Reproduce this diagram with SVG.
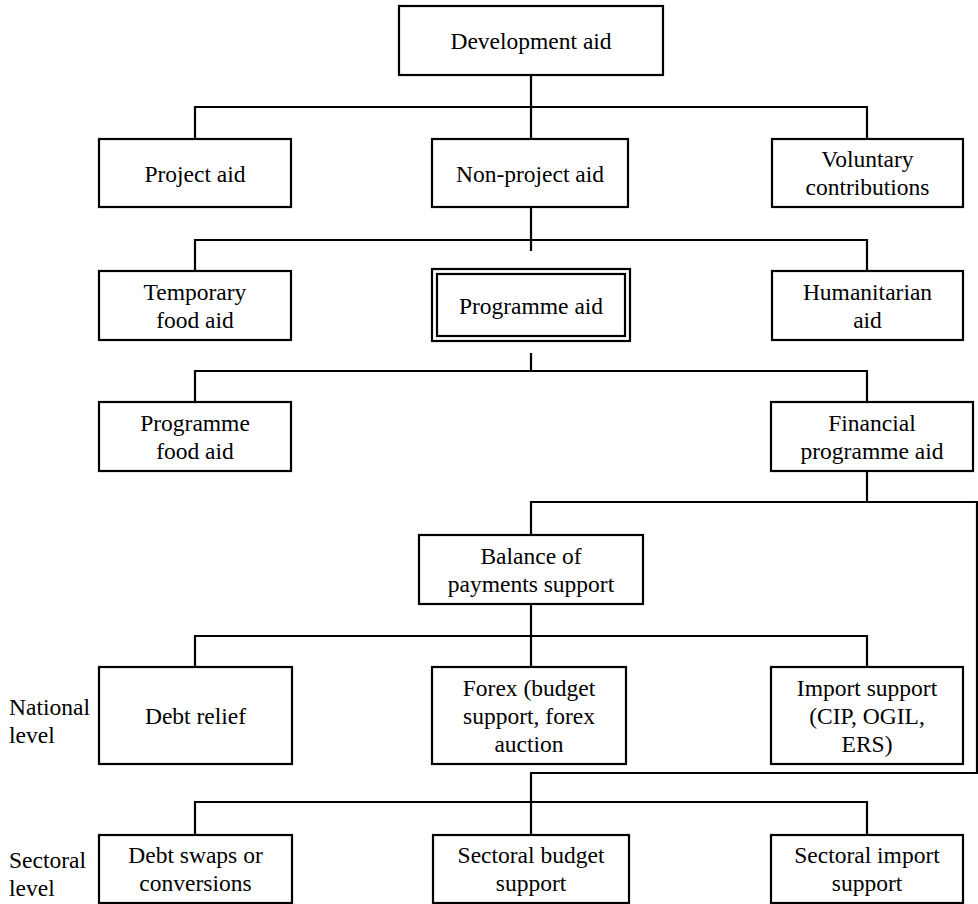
<svg xmlns="http://www.w3.org/2000/svg" width="978" height="904" viewBox="0 0 978 904">
<style>
.b{fill:#fff;stroke:#000;stroke-width:2.2}
.t{text-anchor:middle}
.c{fill:none;stroke:#000;stroke-width:2.2}
text{font-family:"Liberation Serif","Times New Roman",Times,Tinos,"Noto Serif","DejaVu Serif",FreeSerif,serif;font-size:23.5px;fill:#000}
</style>
<rect width="978" height="904" fill="#fff"/>
<g id="connectors" class="c">
<path d="M531,75V107M195,139V107H867V139M531,107V139"/>
<path d="M531,207V251M195,271V240H867V271"/>
<path d="M531,353V371M195,402V371H867V402"/>
<path d="M867,471V502M531,535V502H977V773H531V835"/>
<path d="M531,604V636M195,667V636H867V667M531,636V667"/>
<path d="M195,835V802H867V835"/>
</g>
<g id="dev-aid"><rect class="b" x="399" y="6" width="264" height="69"/><text class="t" x="531" y="49">Development aid</text></g>
<g id="project-aid"><rect class="b" x="99" y="139" width="192" height="68"/><text class="t" x="195" y="181.5">Project aid</text></g>
<g id="non-project-aid"><rect class="b" x="432" y="139" width="196" height="68"/><text class="t" x="530" y="181.5">Non-project aid</text></g>
<g id="voluntary"><rect class="b" x="772" y="139" width="191" height="68"/><text class="t" x="867.5" y="167">Voluntary</text><text class="t" x="867.5" y="195">contributions</text></g>
<g id="temporary-food-aid"><rect class="b" x="99" y="271" width="192" height="69"/><text class="t" x="195" y="299.5">Temporary</text><text class="t" x="195" y="327.5">food aid</text></g>
<g id="programme-aid"><rect class="b" x="432" y="269" width="198" height="72"/><rect class="b" x="437" y="274" width="188" height="62"/><text class="t" x="531" y="313.5">Programme aid</text></g>
<g id="humanitarian-aid"><rect class="b" x="772" y="271" width="191" height="69"/><text class="t" x="867.5" y="299.5">Humanitarian</text><text class="t" x="867.5" y="327.5">aid</text></g>
<g id="programme-food-aid"><rect class="b" x="99" y="402" width="192" height="69"/><text class="t" x="195" y="430.5">Programme</text><text class="t" x="195" y="458.5">food aid</text></g>
<g id="financial-programme-aid"><rect class="b" x="771" y="402" width="202" height="69"/><text class="t" x="872" y="430.5">Financial</text><text class="t" x="872" y="458.5">programme aid</text></g>
<g id="bop-support"><rect class="b" x="419" y="535" width="224" height="69"/><text class="t" x="531" y="563.5">Balance of</text><text class="t" x="531" y="591.5">payments support</text></g>
<g id="debt-relief"><rect class="b" x="99" y="667" width="193" height="97"/><text class="t" x="195.5" y="724">Debt relief</text></g>
<g id="forex"><rect class="b" x="432" y="667" width="194" height="97"/><text class="t" x="529" y="696">Forex (budget</text><text class="t" x="529" y="724">support, forex</text><text class="t" x="529" y="752">auction</text></g>
<g id="import-support"><rect class="b" x="771" y="667" width="192" height="97"/><text class="t" x="867" y="696">Import support</text><text class="t" x="867" y="724">(CIP, OGIL,</text><text class="t" x="867" y="752">ERS)</text></g>
<g id="debt-swaps"><rect class="b" x="99" y="835" width="193" height="68"/><text class="t" x="195.5" y="863">Debt swaps or</text><text class="t" x="195.5" y="891">conversions</text></g>
<g id="sectoral-budget"><rect class="b" x="433" y="835" width="196" height="68"/><text class="t" x="531" y="863">Sectoral budget</text><text class="t" x="531" y="891">support</text></g>
<g id="sectoral-import"><rect class="b" x="771" y="835" width="192" height="68"/><text class="t" x="867" y="863">Sectoral import</text><text class="t" x="867" y="891">support</text></g>
<g id="national-level"><text x="9" y="715">National</text><text x="9" y="743">level</text></g>
<g id="sectoral-level"><text x="9" y="868">Sectoral</text><text x="9" y="896">level</text></g>
</svg>
